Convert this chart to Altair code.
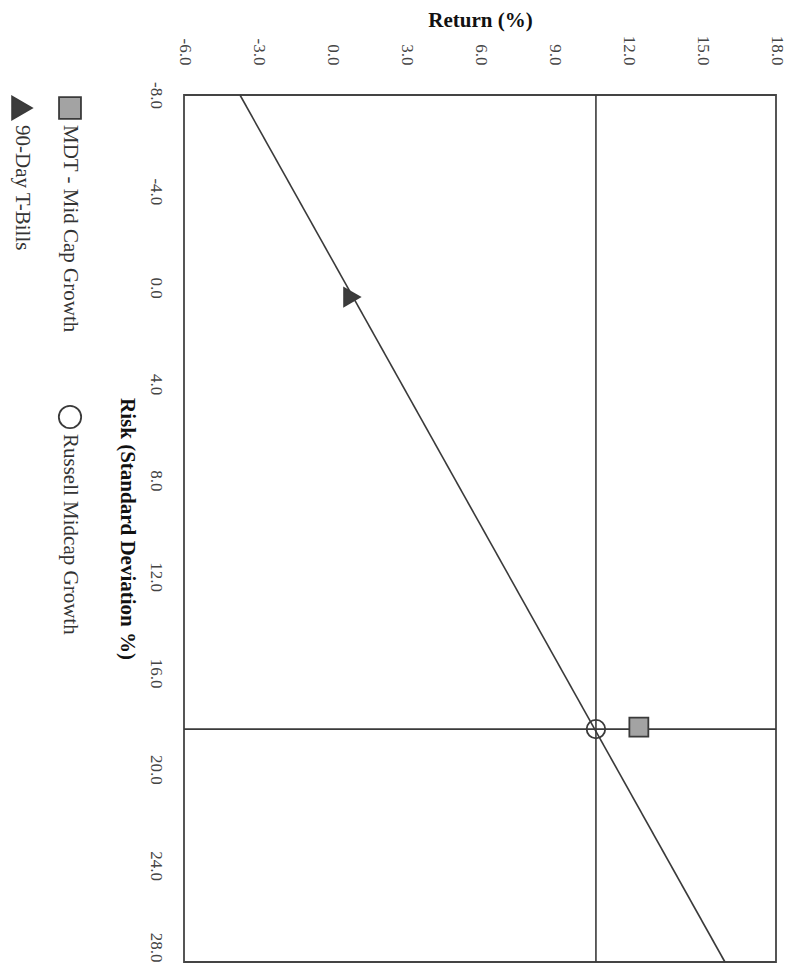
import altair as alt
import pandas as pd

# ---- data ----
names = ["MDT - Mid Cap Growth", "Russell Midcap Growth", "90-Day T-Bills"]
risk = [18.25, 18.33, 0.39]      # standard deviation %
ret = [12.44, 10.70, 0.81]       # return %

cml_risk = [-8.0, 28.0]
cml_return = [-3.73, 15.93]

risk_ticks = [-8, -4, 0, 4, 8, 12, 16, 20, 24, 28]
return_ticks = [-6, -3, 0, 3, 6, 9, 12, 15, 18]

legend_col = [0, 0, 1]
legend_slot = [0, 1, 0]

FONT = "Liberation Serif"
DARK = "#3a3a3a"
LBL = "replace(format(datum.value, '.1f'), '\u2212', '-')"

pts = pd.DataFrame({"name": names, "risk": risk, "ret": ret})
cml = pd.DataFrame({"risk": cml_risk, "ret": cml_return})
leg = pd.DataFrame({"name": names, "col": legend_col, "slot": legend_slot})

shape_scale = alt.Scale(domain=names, range=["square", "circle", "triangle-right"])
fill_scale = alt.Scale(domain=names, range=["#a3a3a3", "transparent", "#3c3c3c"])

xs = alt.Scale(domain=[-6, 18], nice=False, zero=False)
ys = alt.Scale(domain=[-8, 28], nice=False, zero=False, reverse=True)

x_axis = alt.Axis(orient="top", values=return_ticks, labelExpr=LBL, labelAngle=90,
                  labelAlign="right", labelBaseline="middle", ticks=False, domain=False,
                  grid=False, labelPadding=30, labelFont=FONT, labelFontSize=17,
                  labelColor="#444", title="Return (%)", titlePadding=5,
                  titleFont=FONT, titleFontSize=21, titleFontWeight="bold",
                  titleColor="#111")
y_axis = alt.Axis(orient="left", values=risk_ticks, labelExpr=LBL, labelAngle=90,
                  labelAlign=alt.condition(alt.datum.value == risk_ticks[-1],
                                           alt.value("right"), alt.value("center")),
                  labelBaseline="top", ticks=False, domain=False,
                  grid=False, labelPadding=21, labelFont=FONT, labelFontSize=17,
                  labelColor="#444", title="Risk (Standard Deviation %)",
                  titleAngle=90, titleBaseline="top", titlePadding=10,
                  titleFont=FONT, titleFontSize=21, titleFontWeight="bold",
                  titleColor="#111")

base = alt.Chart(pts)

line = alt.Chart(cml).mark_line(color=DARK, strokeWidth=1.6).encode(
    x=alt.X("ret:Q", scale=xs, axis=x_axis),
    y=alt.Y("risk:Q", scale=ys, axis=y_axis),
)

bench = base.transform_filter(alt.datum.name == names[1])
vrule = bench.mark_rule(color=DARK, strokeWidth=1.6).encode(x=alt.X("ret:Q", scale=xs))
hrule = bench.mark_rule(color=DARK, strokeWidth=1.6).encode(y=alt.Y("risk:Q", scale=ys))

points = base.mark_point(filled=False, stroke=DARK, strokeWidth=1.8, opacity=1).encode(
    x=alt.X("ret:Q", scale=xs),
    y=alt.Y("risk:Q", scale=ys),
    shape=alt.Shape("name:N", scale=shape_scale, legend=None),
    fill=alt.Fill("name:N", scale=fill_scale, legend=None),
    size=alt.Size("name:N", scale=alt.Scale(domain=names, range=[360, 330, 420]), legend=None),
)

main = alt.layer(line, vrule, hrule, points).properties(width=592, height=867)

# ---- legend drawn as its own small panel (rotated like the page) ----
lx = alt.X("col:Q", scale=alt.Scale(domain=[0, 1], range=[62, 14], nice=False, zero=False), axis=None)
ly = alt.Y("slot:Q", scale=alt.Scale(domain=[0, 1], range=[13, 322], nice=False, zero=False), axis=None)

leg_sym = alt.Chart(leg).mark_point(filled=False, stroke=DARK, strokeWidth=1.8, opacity=1).encode(
    x=lx, y=ly,
    shape=alt.Shape("name:N", scale=shape_scale, legend=None),
    fill=alt.Fill("name:N", scale=fill_scale, legend=None),
    size=alt.Size("name:N", scale=alt.Scale(domain=names, range=[480, 520, 650]), legend=None),
)
leg_txt = alt.Chart(leg).mark_text(angle=90, align="left", baseline="middle", dx=17,
                                   font=FONT, fontSize=21, color="#333").encode(
    x=lx, y=ly, text="name:N")

legend = alt.layer(leg_sym, leg_txt).properties(width=103, height=860,
                                                view=alt.ViewBackground(stroke=None))

chart = alt.hconcat(legend, main, spacing=4).resolve_scale(
    shape="independent", fill="independent", size="independent"
).configure_view(stroke="#444", strokeWidth=1.8).properties(
    padding={"top": 0, "left": 0, "right": 0, "bottom": 0}
)

chart.save("out.html", embed_options={"renderer": "svg", "actions": False})
